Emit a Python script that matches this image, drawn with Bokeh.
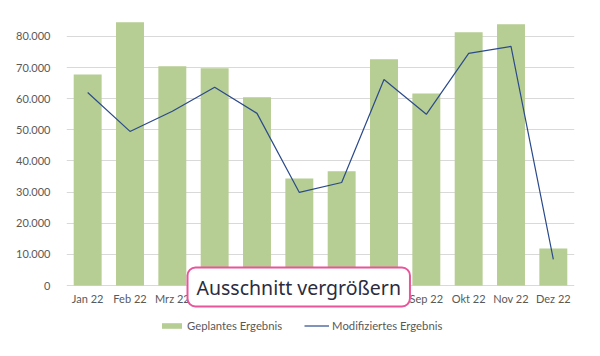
from bokeh.plotting import figure
from bokeh.models import (FixedTicker, Legend, LegendItem, ColumnDataSource, Range1d, Label)
from bokeh.core.properties import value
from bokeh.embed import file_html
from bokeh.resources import INLINE

months = ["Jan 22", "Feb 22", "Mrz 22", "Apr 22", "Mai 22", "Jun 22",
          "Jul 22", "Aug 22", "Sep 22", "Okt 22", "Nov 22", "Dez 22"]
geplant = [67800, 84600, 70400, 69800, 60500, 34400, 36700, 72700, 61700, 81400, 83900, 11900]
modifiziert = [62000, 49500, 56000, 63700, 55300, 29900, 33100, 66200, 55000, 74600, 76800, 8400]
y_ticks = [0, 10000, 20000, 30000, 40000, 50000, 60000, 70000, 80000]
y_tick_labels = ["0", "10.000", "20.000", "30.000", "40.000", "50.000", "60.000", "70.000", "80.000"]
series_names = ["Geplantes Ergebnis", "Modifiziertes Ergebnis"]
overlay_text = "Ausschnitt vergrößern"

src = ColumnDataSource(dict(m=months, g=geplant, mod=modifiziert))

# frame spans to the bottom of the figure; the category labels are drawn under the 0 line
p = figure(x_range=months, width=584, height=340, output_backend="svg",
           toolbar_location=None, x_axis_location=None,
           min_border_left=66, min_border_right=10, min_border_top=11, min_border_bottom=0)
p.y_range = Range1d(-17670, 88030)
p.x_range.range_padding = 0
p.outline_line_color = None
p.background_fill_color = "white"

p.yaxis.ticker = FixedTicker(ticks=y_ticks)
p.yaxis.major_label_overrides = {t: l for t, l in zip(y_ticks, y_tick_labels)}
p.yaxis.axis_line_color = None
p.yaxis.major_tick_line_color = None
p.yaxis.minor_tick_line_color = None
p.yaxis.major_label_standoff = 10
p.yaxis.major_label_text_font = "Lato"
p.yaxis.major_label_text_font_size = "11px"
p.yaxis.major_label_text_color = "#595959"
p.xgrid.grid_line_color = None
p.ygrid.grid_line_color = "#d9d9d9"
p.ygrid.ticker = FixedTicker(ticks=y_ticks)

bars = p.vbar(x="m", top="g", width=0.66, source=src, fill_color="#b6cd93", line_color=None)
line = p.line(x="m", y="mod", source=src, line_color="#2b4a8b", line_width=1.2)

# category axis labels
p.text(x="m", y=0, text="m", source=src, y_offset=13, text_align="center",
       text_baseline="middle", text_font=value("Lato"), text_font_size="11px",
       text_color="#595959")

legend = Legend(items=[LegendItem(label=series_names[0], renderers=[bars]),
                       LegendItem(label=series_names[1], renderers=[line])],
                orientation="horizontal", location=(93, 8),
                glyph_width=25, glyph_height=7, label_height=12,
                label_text_font="Lato", label_text_font_size="11.3px",
                label_text_color="#595959", label_standoff=3, spacing=22,
                padding=0, margin=0, border_line_color=None,
                background_fill_alpha=0)
p.add_layout(legend, "center")

pad = dict(left=9, right=9, top=6, bottom=6)
shadow = Label(x=123, y=31, x_units="screen", y_units="screen", text=overlay_text,
               text_font="Noto Sans", text_font_size="19.5px", text_alpha=0,
               padding=pad, border_radius=8,
               background_fill_color="#7a7a7a", background_fill_alpha=0.35,
               border_line_color=None)
box = Label(x=121, y=34, x_units="screen", y_units="screen", text=overlay_text,
            text_font="Noto Sans", text_font_size="19.5px", text_color="#2c2c3e",
            padding=pad, border_radius=8,
            background_fill_color="white", border_line_color="#e8559a", border_line_width=2)
shadow.level = "overlay"
box.level = "overlay"
p.add_layout(shadow)
p.add_layout(box)

open("out.html", "w").write(file_html(p, INLINE))
